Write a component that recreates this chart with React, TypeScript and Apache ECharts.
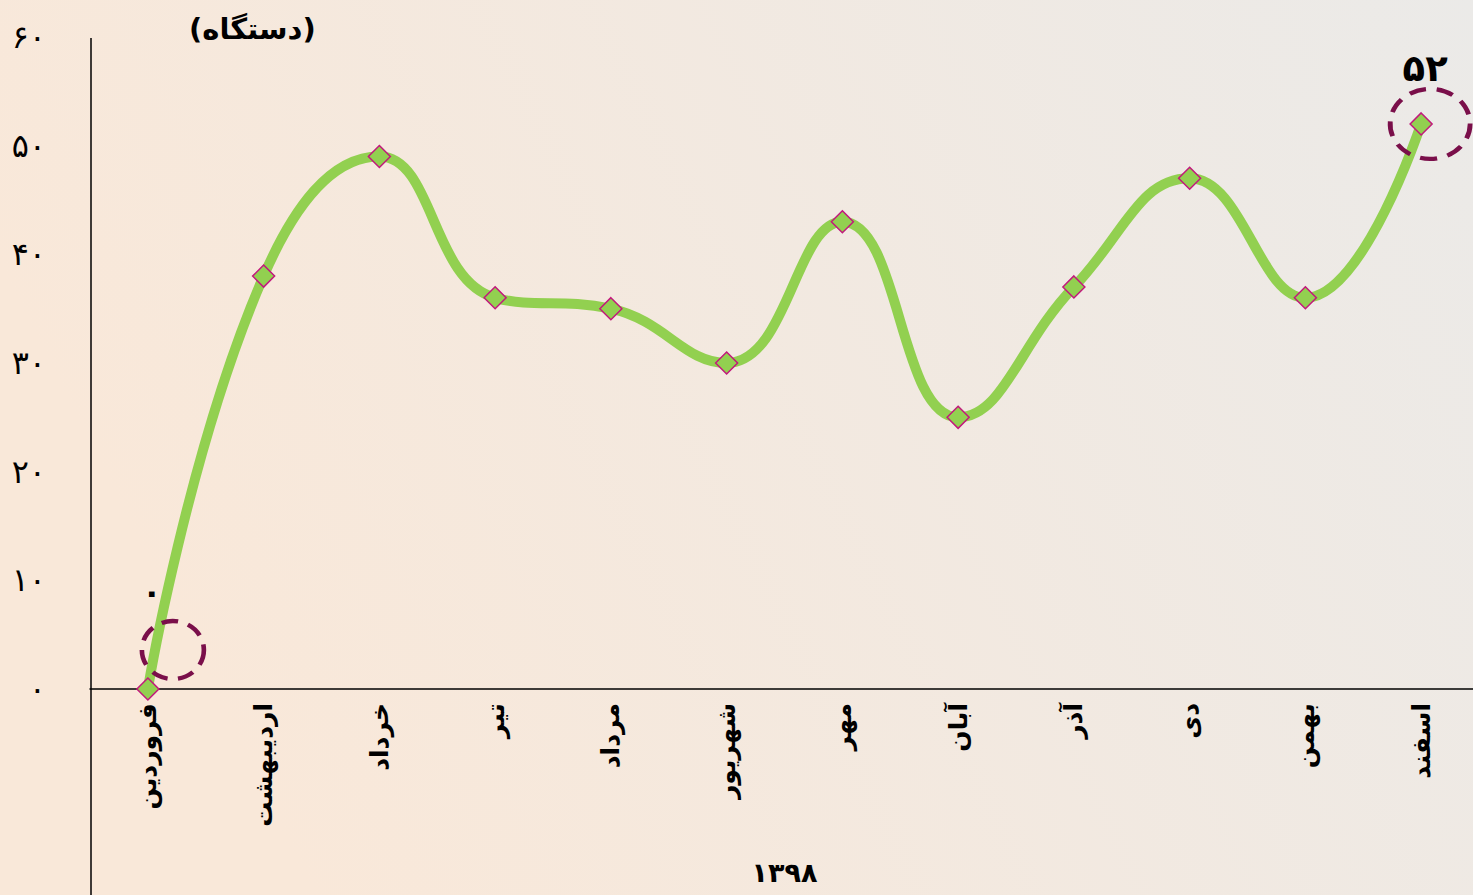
import React, { useEffect, useRef } from "react";
import * as echarts from "echarts";

const months = ["فروردین", "اردیبهشت", "خرداد", "تیر", "مرداد", "شهریور", "مهر", "آبان", "آذر", "دی", "بهمن", "اسفند"];
const counts = [0, 38, 49, 36, 35, 30, 43, 25, 37, 47, 36, 52];
const highlighted = [0, 11];
const yearLabel = "۱۳۹۸";
const unitLabel = "(دستگاه)";

const toFa = (v: number | string) => String(v).replace(/[0-9]/g, (d) => "۰۱۲۳۴۵۶۷۸۹"[Number(d)]);

const FONT = "'DejaVu Sans', sans-serif";

export default function App() {
  const ref = useRef<HTMLDivElement>(null);
  useEffect(() => {
    if (!ref.current) return;
    const chart = echarts.init(ref.current, null, { renderer: "svg" });
    const lineData = counts.map((v, i) => {
      if (i === 0) {
        return { value: v, label: { show: true, offset: [4, -64], fontSize: 32, fontWeight: "bold" } };
      }
      if (i === counts.length - 1) {
        return { value: v, label: { show: true, offset: [4, -20], fontSize: 37, fontWeight: "bold" } };
      }
      return v;
    });
    chart.setOption({
      animation: false,
      backgroundColor: {
        type: "linear",
        x: 0,
        y: 0.3,
        x2: 1,
        y2: 0,
        colorStops: [
          { offset: 0, color: "#f9e8d9" },
          { offset: 1, color: "#ebeae8" },
        ],
      },
      grid: { left: 90, right: 0, top: 37, bottom: 206 },
      title: {
        text: unitLabel,
        left: 184,
        top: 9,
        textStyle: { fontFamily: FONT, fontSize: 29, fontWeight: "bold", color: "#000" },
      },
      xAxis: {
        type: "category",
        data: months,
        boundaryGap: true,
        axisLine: { lineStyle: { color: "#000", width: 1.5 } },
        axisTick: { show: false },
        axisLabel: {
          rotate: 90,
          interval: 0,
          margin: 14,
          fontFamily: FONT,
          fontSize: 25,
          fontWeight: "bold",
          color: "#000",
        },
        name: yearLabel,
        nameLocation: "middle",
        nameGap: 170,
        nameTextStyle: { fontFamily: FONT, fontSize: 27, fontWeight: "bold", color: "#000", verticalAlign: "top" },
      },
      yAxis: {
        type: "value",
        min: 0,
        max: 60,
        interval: 10,
        splitLine: { show: false },
        axisLine: { show: false },
        axisTick: { show: false },
        axisLabel: {
          margin: 44,
          fontFamily: FONT,
          fontSize: 32,
          color: "#000",
          formatter: (v: number) => toFa(v),
        },
      },
      graphic: [
        {
          type: "line",
          shape: { x1: 91, y1: 38, x2: 91, y2: 895 },
          style: { stroke: "#000", lineWidth: 1.5 },
          z: 10,
        },
      ],
      series: [
        {
          type: "line",
          data: lineData,
          smooth: 0.45,
          symbol: "diamond",
          symbolSize: 22,
          lineStyle: { color: "#92d050", width: 10 },
          itemStyle: { color: "#92d050", borderColor: "#c2187c", borderWidth: 1.5 },
          label: {
            show: false,
            position: "top",
            color: "#000",
            fontFamily: FONT,
            formatter: (p: any) => toFa(p.value),
          },
          z: 3,
        },
        {
          type: "scatter",
          data: highlighted.map((i) =>
            i === 0
              ? { value: [i, counts[i]], symbolSize: [62, 58], symbolOffset: [25, -39] }
              : { value: [i, counts[i]], symbolSize: [80, 70], symbolOffset: [9, 0] }
          ),
          symbol: "circle",
          itemStyle: {
            color: "rgba(0,0,0,0)",
            borderColor: "#7a0f4a",
            borderWidth: 4.5,
            borderType: [16, 10],
            opacity: 1,
          },
          silent: true,
          z: 4,
        },
      ],
    });
    return () => chart.dispose();
  }, []);
  return (
    <div style={{ position: "absolute", left: 0, top: 0, width: 1473, height: 895, overflow: "hidden" }}>
      <div ref={ref} style={{ width: 1479, height: 895 }} />
    </div>
  );
}
